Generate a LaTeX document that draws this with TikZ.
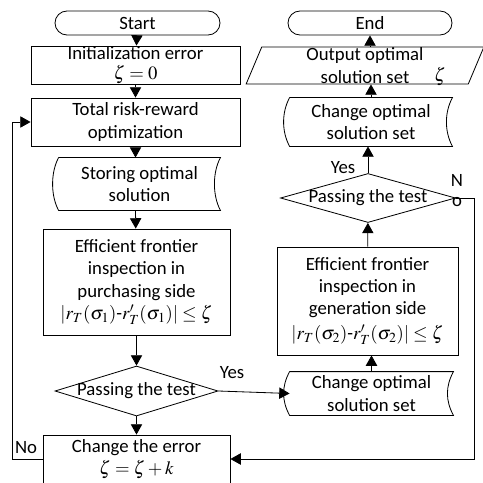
\documentclass[tikz,border=0pt]{standalone}
\usepackage{mathptmx}
\usepackage[no-math]{fontspec}
\setmainfont{Carlito}
\usetikzlibrary{shapes.geometric,shapes.misc,arrows.meta}

\tikzset{
  box/.style={draw, rectangle, align=center, inner sep=0pt},
  term/.style={draw, rounded rectangle, minimum width=4.95cm, minimum height=0.72cm, inner sep=0pt},
  storebox/.style={rectangle, align=center, inner sep=0pt},
  test/.style={draw, diamond, inner sep=0pt},
  arr/.style={-{Triangle[length=3.1mm,width=3.4mm]}},
  lbl/.style={inner sep=0pt}
}
\newcommand{\storeline}[1]{\draw (#1.north west) -- (#1.north east) .. controls +(-8,15) and +(-8,-15) .. (#1.south east) -- (#1.south west) .. controls +(-8,-15) and +(-8,15) .. (#1.north west);}

\begin{document}
\begin{tikzpicture}[line width=0.7pt, font=\fontsize{16}{19}\selectfont, x=0.03cm, y=-0.03cm]
			\useasboundingbox (0,0) rectangle (483,482);
			% left column
			\node[term](start) at (137.5,23){Start};
			\node[box, minimum width=6.27cm, minimum height=1.14cm](init) at (135.5,65){Initialization error\\[-2pt]$\zeta=0$};
			\node[box, minimum width=6.27cm, minimum height=1.44cm](total) at (135.5,122){Total risk-reward\\optimization};
			\node[storebox, minimum width=4.83cm, minimum height=1.56cm](store) at (139.5,184){Storing optimal\\solution};
			\storeline{store}
			\node[box, minimum width=5.61cm, minimum height=3.18cm](eff1) at (136.5,282){Efficient frontier\\inspection in\\purchasing side\\[0pt]$\left|r_T(\sigma_1)\mbox{-}r_T'(\sigma_1)\right|\le\zeta$};
			\node[test, minimum width=4.89cm, minimum height=1.5cm](dia1) at (136.5,391){\makebox[0pt]{Passing the test}};
			\node[box, minimum width=5.61cm, minimum height=1.44cm](err) at (136.5,459){Change the error\\$\zeta=\zeta+k$};
			% right column
			\node[term, minimum width=4.92cm](end) at (370,23){End};
			\node[draw, trapezium, trapezium left angle=76, trapezium right angle=104, trapezium stretches=true, minimum width=7.14cm, minimum height=1.11cm, inner sep=0pt, align=center](out) at (365,65.5){Output optimal\\solution set};
			\node[lbl](zeta) at (440,76){$\zeta$};
			\node[storebox, minimum width=4.86cm, minimum height=1.44cm](chg1) at (371,122){Change optimal\\solution set};
			\storeline{chg1}
			\node[test, minimum width=5.25cm, minimum height=1.47cm](dia2) at (368,198){\makebox[0pt]{Passing the test}};
			\node[box, minimum width=5.43cm, minimum height=3.24cm](eff2) at (367.5,301){Efficient frontier\\inspection in\\generation side\\[2pt]$\left|r_T(\sigma_2)\mbox{-}r_T'(\sigma_2)\right|\le\zeta$};
			\node[storebox, minimum width=4.89cm, minimum height=1.29cm](chg2) at (371.5,393.5){Change optimal\\solution set};
			\storeline{chg2}
			% labels
			\node[lbl](no1) at (26,448){No};
			\node[lbl](yes1) at (232,373){Yes};
			\node[lbl](yes2) at (343,168){Yes};
			\node[lbl, align=center](no2) at (457,191){N\\[-2pt]o};
			\coordinate (cl) at (12,459);
			\coordinate (cr) at (474,198);
			% connectors
			\draw[arr] (start) -- (init);
			\draw[arr] (init) -- (total);
			\draw[arr] (total) -- (store.north -| total);
			\draw[arr] (store.south -| total) -- (eff1);
			\draw[arr] (eff1) -- (dia1);
			\draw[arr] (dia1) -- (err);
			\draw[arr] (err.west |- cl) -- (cl) |- (total.west);
			\draw[arr] (dia1.east) -- (chg2.west);
			\draw[arr] (chg2.north) -- (chg2.north |- eff2.south);
			\draw[arr] (eff2) -- (dia2);
			\draw[arr] (dia2.north) -- (dia2.north |- chg1.south);
			\draw[arr] (chg1.north) -- (chg1.north |- out.south);
			\draw[arr] (end.south |- out.north) -- (end.south);
			\draw[arr] (dia2.east) -- (cr) |- (err.east |- cl);
\end{tikzpicture}
\end{document}
